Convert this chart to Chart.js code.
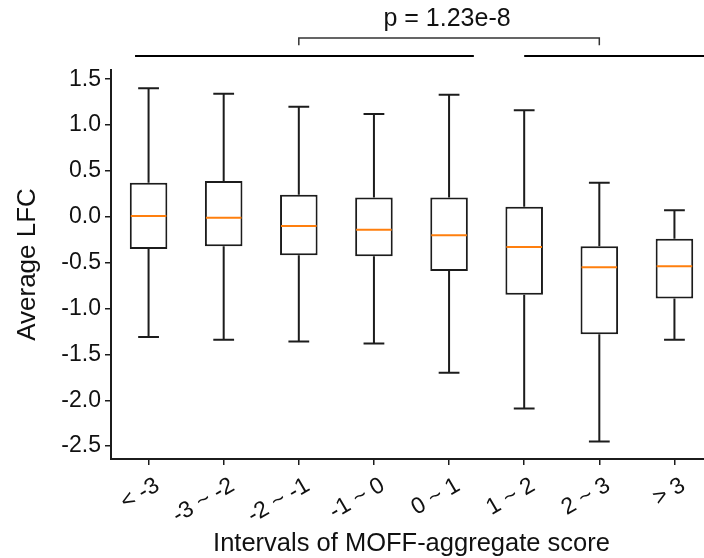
<!DOCTYPE html>
<html>
<head>
<meta charset="utf-8">
<script src="https://cdn.jsdelivr.net/npm/chart.js@4.4.1/dist/chart.umd.min.js"></script>
<style>
  html, body { margin: 0; padding: 0; background: #fff; overflow: hidden; }
</style>
</head>
<body>
<!-- the last category runs slightly past the window edge -->
<canvas id="lfcChart" width="712" height="558"></canvas>
<script>
// Box plot of average LFC per MOFF-aggregate score interval
const intervals = ["< -3", "-3 ~ -2", "-2 ~ -1", "-1 ~ 0", "0 ~ 1", "1 ~ 2", "2 ~ 3", "> 3"];
const whiskerHigh   = [1.40, 1.34, 1.20, 1.12, 1.33, 1.16, 0.37, 0.07];
const upperQuartile = [0.37, 0.39, 0.24, 0.21, 0.21, 0.11, -0.32, -0.24];
const medians       = [0.01, -0.01, -0.10, -0.14, -0.20, -0.33, -0.55, -0.54];
const lowerQuartile = [-0.35, -0.32, -0.42, -0.43, -0.59, -0.85, -1.28, -0.89];
const whiskerLow    = [-1.31, -1.34, -1.36, -1.38, -1.70, -2.09, -2.45, -1.34];

// significance annotation above the plot
const pLabel = "p = 1.23e-8";
const bracketFrom = 2;
const bracketTo = 6;

const ink = "#1c1c1c";
const fontFamily = "'Liberation Sans', Arial, sans-serif";

// whiskers, caps and median lines on top of the floating bars
const boxParts = {
  id: "boxParts",
  afterDatasetsDraw(chart) {
    const y = chart.scales.y;
    const ctx = chart.ctx;
    const bars = chart.getDatasetMeta(0).data;
    ctx.save();
    ctx.lineWidth = 2;
    bars.forEach((bar, i) => {
      const half = bar.width / 2;
      const cap = half / 2 + 1;
      ctx.strokeStyle = ink;
      ctx.beginPath();
      ctx.moveTo(bar.x, y.getPixelForValue(upperQuartile[i]));
      ctx.lineTo(bar.x, y.getPixelForValue(whiskerHigh[i]));
      ctx.moveTo(bar.x, y.getPixelForValue(lowerQuartile[i]));
      ctx.lineTo(bar.x, y.getPixelForValue(whiskerLow[i]));
      ctx.moveTo(bar.x - cap, y.getPixelForValue(whiskerHigh[i]));
      ctx.lineTo(bar.x + cap, y.getPixelForValue(whiskerHigh[i]));
      ctx.moveTo(bar.x - cap, y.getPixelForValue(whiskerLow[i]));
      ctx.lineTo(bar.x + cap, y.getPixelForValue(whiskerLow[i]));
      ctx.stroke();
      ctx.strokeStyle = "#ff7f0e";
      ctx.beginPath();
      ctx.moveTo(bar.x - half + 1, y.getPixelForValue(medians[i]));
      ctx.lineTo(bar.x + half - 1, y.getPixelForValue(medians[i]));
      ctx.stroke();
    });
    ctx.restore();
  }
};

// bracket with p-value and the long rules above the axes
const significance = {
  id: "significance",
  afterDraw(chart) {
    const x = chart.scales.x;
    const y = chart.scales.y;
    const ctx = chart.ctx;
    const left = x.getPixelForValue(bracketFrom);
    const right = x.getPixelForValue(bracketTo);
    const barY = y.getPixelForValue(1.95);
    const legY = y.getPixelForValue(1.87);
    const ruleY = y.getPixelForValue(1.752);
    ctx.save();
    ctx.strokeStyle = "#333";
    ctx.lineWidth = 1.5;
    ctx.beginPath();
    ctx.moveTo(left, legY);
    ctx.lineTo(left, barY);
    ctx.lineTo(right, barY);
    ctx.lineTo(right, legY);
    ctx.stroke();
    ctx.strokeStyle = "#000";
    ctx.lineWidth = 2;
    ctx.beginPath();
    ctx.moveTo(x.getPixelForValue(-0.18), ruleY);
    ctx.lineTo(x.getPixelForValue(4.33), ruleY);
    ctx.moveTo(x.getPixelForValue(5.0), ruleY);
    ctx.lineTo(chart.width, ruleY);
    ctx.stroke();
    ctx.fillStyle = "#111";
    ctx.font = "25px " + fontFamily;
    ctx.textAlign = "center";
    ctx.textBaseline = "alphabetic";
    ctx.fillText(pLabel, (left + right) / 2 - 2, y.getPixelForValue(2.075));
    ctx.restore();
  }
};

new Chart(document.getElementById("lfcChart").getContext("2d"), {
  type: "bar",
  data: {
    labels: intervals,
    datasets: [
      {
        data: lowerQuartile.map((q, i) => [q, upperQuartile[i]]),
        backgroundColor: "#ffffff",
        borderColor: ink,
        borderWidth: 2,
        borderSkipped: false,
        barPercentage: 0.5,
        categoryPercentage: 1.0,
      },
    ],
  },
  options: {
    responsive: false,
    animation: false,
    devicePixelRatio: 1,
    layout: {
      padding: { top: 70, right: 0, left: 0, bottom: 0 },
    },
    plugins: {
      legend: { display: false },
      tooltip: { enabled: false },
    },
    scales: {
      x: {
        offset: true,
        grid: {
          drawOnChartArea: false,
          offset: false,
          tickLength: 6,
          color: ink,
          lineWidth: 1.5,
        },
        border: { color: ink, width: 2 },
        ticks: {
          color: "#111",
          font: { family: fontFamily, size: 23 },
          minRotation: 30,
          maxRotation: 30,
          labelOffset: 9,
          padding: 7,
          autoSkip: false,
        },
        title: {
          display: true,
          text: "Intervals of MOFF-aggregate score",
          color: "#111",
          font: { family: fontFamily, size: 25.5 },
          padding: { top: 0, bottom: -1 },
        },
        afterFit(scale) {
          scale.height = 99;
        },
      },
      y: {
        min: -2.64,
        max: 1.6,
        grid: {
          drawOnChartArea: false,
          tickLength: 6,
          color: ink,
          lineWidth: 1.5,
        },
        border: { color: ink, width: 2 },
        ticks: {
          stepSize: 0.5,
          includeBounds: false,
          color: "#111",
          padding: 4,
          font: { family: fontFamily, size: 23 },
          callback: (v) => v.toFixed(1),
        },
        title: {
          display: true,
          text: "Average LFC",
          color: "#111",
          font: { family: fontFamily, size: 26 },
          padding: { top: 12, bottom: 0 },
        },
        afterFit(scale) {
          scale.width = 111;
        },
      },
    },
  },
  plugins: [boxParts, significance],
});
</script>
</body>
</html>
